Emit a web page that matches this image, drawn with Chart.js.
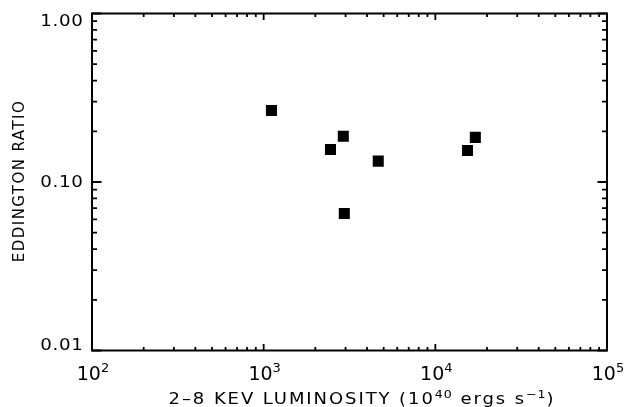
<!DOCTYPE html>
<html>
<head>
<meta charset="utf-8">
<script src="https://cdn.jsdelivr.net/npm/chart.js@4.4.1/dist/chart.umd.min.js"></script>
<style>
  html, body { margin: 0; padding: 0; background: #fff; }
  #wrap { width: 626px; height: 407px; }
</style>
</head>
<body>
<div id="wrap"><canvas id="chart" width="626" height="407"></canvas></div>
<script>
// 2-8 keV luminosity (10^40 erg/s) vs Eddington ratio
const luminosity = [1110, 2910, 2450, 4650, 2950, 15400, 17100];
const eddington = [0.266, 0.187, 0.156, 0.133, 0.065, 0.154, 0.184];

const xTicks = [100, 1000, 10000, 100000];
const xTickExp = ["2", "3", "4", "5"];
const yTicks = [0.01, 0.1, 1];
const yTickLabels = ["0.01", "0.10", "1.00"];

const FONT = "'DejaVu Sans', sans-serif";

function minorTicks(min, max) {
  const out = [];
  for (let d = min; d < max; d *= 10) {
    for (let k = 2; k <= 9; k++) out.push(d * k);
  }
  return out;
}

// draws text pieces (base + superscripts) one after another, returns width
function drawRich(ctx, parts, x, y, measureOnly) {
  let w = 0;
  parts.forEach(p => {
    ctx.font = p.font;
    ctx.letterSpacing = p.ls || "0px";
    const pw = ctx.measureText(p.text).width;
    if (!measureOnly) ctx.fillText(p.text, x + w, y + (p.dy || 0));
    w += pw;
  });
  ctx.letterSpacing = "0px";
  return w;
}

const framePlugin = {
  id: "frame",
  afterDraw(chart) {
    const { ctx, chartArea: a, scales } = chart;
    const xs = scales.x, ys = scales.y;
    ctx.save();
    ctx.strokeStyle = "#000";
    ctx.fillStyle = "#000";

    ctx.lineWidth = 2;
    ctx.strokeRect(a.left, a.top, a.right - a.left, a.bottom - a.top);

    // ticks pointing inward on all four sides
    ctx.lineWidth = 1.8;
    ctx.beginPath();
    const xMinor = minorTicks(100, 100000);
    xTicks.forEach(v => {
      const px = xs.getPixelForValue(v);
      ctx.moveTo(px, a.bottom); ctx.lineTo(px, a.bottom - 6.5);
      ctx.moveTo(px, a.top); ctx.lineTo(px, a.top + 6.5);
    });
    xMinor.forEach(v => {
      const px = xs.getPixelForValue(v);
      ctx.moveTo(px, a.bottom); ctx.lineTo(px, a.bottom - 3.5);
      ctx.moveTo(px, a.top); ctx.lineTo(px, a.top + 3.5);
    });
    const yMinor = minorTicks(0.01, 1);
    yTicks.forEach(v => {
      const py = ys.getPixelForValue(v);
      ctx.moveTo(a.left, py); ctx.lineTo(a.left + 9.5, py);
      ctx.moveTo(a.right, py); ctx.lineTo(a.right - 9.5, py);
    });
    yMinor.forEach(v => {
      const py = ys.getPixelForValue(v);
      ctx.moveTo(a.left, py); ctx.lineTo(a.left + 5, py);
      ctx.moveTo(a.right, py); ctx.lineTo(a.right - 5, py);
    });
    ctx.stroke();

    // y tick labels, slightly widened glyphs
    ctx.font = "16px " + FONT;
    ctx.letterSpacing = "0.6px";
    ctx.textAlign = "right";
    ctx.textBaseline = "middle";
    yTicks.forEach((v, i) => {
      let py = ys.getPixelForValue(v);
      py = Math.min(Math.max(py, a.top + 7.5), a.bottom - 5.5);
      ctx.save();
      ctx.translate(a.left - 8.5, py + 0.5);
      ctx.scale(1.14, 1);
      ctx.fillText(yTickLabels[i], 0, 0);
      ctx.restore();
    });
    ctx.letterSpacing = "0px";

    // x tick labels, 10 with superscript exponent
    ctx.textAlign = "left";
    ctx.textBaseline = "alphabetic";
    xTicks.forEach((v, i) => {
      const px = xs.getPixelForValue(v);
      const parts = [
        { text: "10", font: "19px " + FONT },
        { text: xTickExp[i], font: "13px " + FONT, dy: -7.5 }
      ];
      const w = drawRich(ctx, parts, 0, 0, true);
      drawRich(ctx, parts, px - w / 2 + 1, 379.5);
    });

    // x title, stretched a little to the width of the original
    const tf = "15px " + FONT, sf = "10.5px " + FONT;
    const ls = "1.6px";
    const title = [
      { text: "2\u20138 KEV LUMINOSITY (10", font: tf, ls },
      { text: "40", font: sf, dy: -6, ls: "0.8px" },
      { text: " ergs s", font: tf, ls },
      { text: "\u22121", font: sf, dy: -6, ls: "0.8px" },
      { text: ")", font: tf, ls }
    ];
    const sx = 1.2;
    const tw = drawRich(ctx, title, 0, 0, true) * sx;
    ctx.save();
    ctx.translate(362 - tw / 2, 403.5);
    ctx.scale(sx, 1);
    drawRich(ctx, title, 0, 0);
    ctx.restore();

    // y title
    ctx.save();
    ctx.translate(23.5, 181);
    ctx.rotate(-Math.PI / 2);
    ctx.font = tf;
    ctx.letterSpacing = "1.45px";
    ctx.textAlign = "center";
    ctx.fillText("EDDINGTON RATIO", 0, 0);
    ctx.restore();

    ctx.restore();
  }
};

new Chart(document.getElementById("chart").getContext("2d"), {
  type: "scatter",
  data: {
    datasets: [{
      data: luminosity.map((x, i) => ({ x, y: eddington[i] })),
      pointStyle: "rect",
      pointRadius: 7.8,
      pointHoverRadius: 7.8,
      borderWidth: 0,
      backgroundColor: "#000",
      borderColor: "#000"
    }]
  },
  options: {
    responsive: false,
    animation: false,
    events: [],
    layout: { padding: { left: 0, right: 19, top: 13.5, bottom: 0 } },
    plugins: {
      legend: { display: false },
      tooltip: { enabled: false }
    },
    scales: {
      x: {
        type: "logarithmic",
        min: 100,
        max: 100000,
        ticks: { display: false },
        grid: { display: false },
        border: { display: false },
        afterFit(scale) { scale.height = 56.5; }
      },
      y: {
        type: "logarithmic",
        min: 0.01,
        max: 1,
        ticks: { display: false },
        grid: { display: false },
        border: { display: false },
        afterFit(scale) { scale.width = 92; }
      }
    }
  },
  plugins: [framePlugin]
});
</script>
</body>
</html>
